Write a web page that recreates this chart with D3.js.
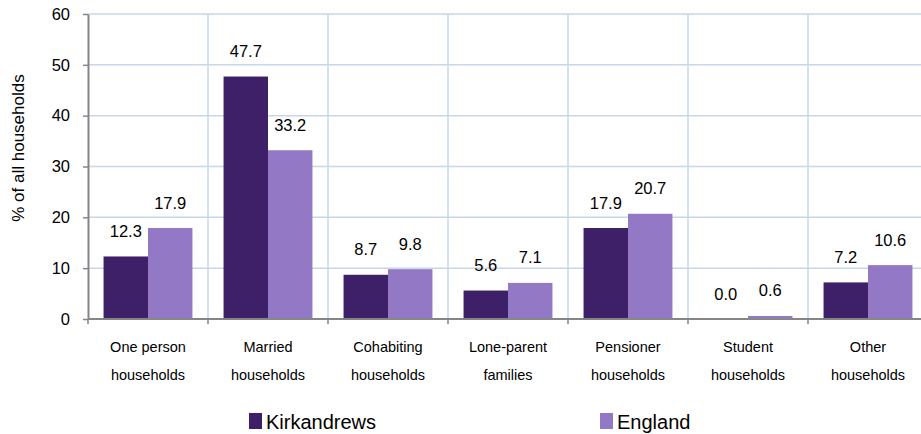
<!DOCTYPE html>
<html>
<head>
<meta charset="utf-8">
<script src="https://cdn.jsdelivr.net/npm/d3@7"></script>
<style>
  body { margin: 0; background: #fff; }
  text { font-family: "Liberation Sans", Arial, sans-serif; fill: #000; }
</style>
</head>
<body>
<script>
// chart data
const categories = [
  ['One person', 'households'],
  ['Married', 'households'],
  ['Cohabiting', 'households'],
  ['Lone-parent', 'families'],
  ['Pensioner', 'households'],
  ['Student', 'households'],
  ['Other', 'households']
];
const seriesNames = ['Kirkandrews', 'England'];
const kirkandrews = [12.3, 47.7, 8.7, 5.6, 17.9, 0.0, 7.2];
const england = [17.9, 33.2, 9.8, 7.1, 20.7, 0.6, 10.6];
const yTicks = [0, 10, 20, 30, 40, 50, 60];
const colors = ['#3d2068', '#9378c5'];

const w = 921, h = 434;
const margin = { left: 88, top: 14, right: -7, bottom: 115 };

const svg = d3.select('body').append('svg')
  .attr('width', w)
  .attr('height', h);

const catKeys = categories.map((c, i) => i);
const x = d3.scaleBand()
  .domain(catKeys)
  .range([margin.left, w - margin.right]);

const xSub = d3.scaleBand()
  .domain(seriesNames)
  .range([0, x.bandwidth()])
  .paddingOuter(0.35);

const y = d3.scaleLinear()
  .domain([0, 60])
  .range([h - margin.bottom, margin.top]);

// gridlines
const grid = svg.append('g').attr('class', 'grid');
grid.selectAll('line.h')
  .data(yTicks.slice(1))
  .enter().append('line')
  .attr('x1', margin.left).attr('x2', w - margin.right)
  .attr('y1', d => y(d)).attr('y2', d => y(d))
  .attr('stroke', '#c6d7ec').attr('stroke-width', 1.5);
grid.selectAll('line.v')
  .data(catKeys.slice(1))
  .enter().append('line')
  .attr('x1', d => x(d)).attr('x2', d => x(d))
  .attr('y1', y(60)).attr('y2', y(0))
  .attr('stroke', '#c6d7ec').attr('stroke-width', 1.5);

// bars
const rows = catKeys.map(i => ({ i, values: [kirkandrews[i], england[i]] }));
const groups = svg.append('g').selectAll('g')
  .data(rows)
  .enter().append('g')
  .attr('transform', d => `translate(${x(d.i)},0)`);

groups.selectAll('rect')
  .data(d => d.values.map((v, k) => ({ name: seriesNames[k], v, k })))
  .enter().append('rect')
  .attr('x', d => xSub(d.name))
  .attr('width', xSub.bandwidth())
  .attr('y', d => y(d.v))
  .attr('height', d => y(0) - y(d.v))
  .attr('fill', d => colors[d.k]);

groups.selectAll('text')
  .data(d => d.values.map((v, k) => ({ name: seriesNames[k], v, k })))
  .enter().append('text')
  .attr('x', d => xSub(d.name) + xSub.bandwidth() / 2)
  .attr('y', d => y(d.v) - 19.5)
  .attr('text-anchor', 'middle')
  .style('font-size', '16.5px')
  .text(d => d.v.toFixed(1));

// y axis
const yAxis = svg.append('g')
  .attr('transform', `translate(${margin.left},0)`)
  .call(d3.axisLeft(y).tickValues(yTicks).tickSize(5).tickSizeOuter(0).tickPadding(13));
yAxis.select('.domain').attr('stroke', '#868686').attr('stroke-width', 2);
yAxis.selectAll('.tick line').attr('stroke', '#868686').attr('stroke-width', 1.5);
yAxis.selectAll('.tick text')
  .style('font-size', '16.5px')
  .style('font-family', '"Liberation Sans", Arial, sans-serif')
  .attr('fill', '#000');

// x axis
const xAxisG = svg.append('g');
xAxisG.append('line')
  .attr('x1', margin.left).attr('x2', w - margin.right)
  .attr('y1', y(0)).attr('y2', y(0))
  .attr('stroke', '#868686').attr('stroke-width', 2);
xAxisG.selectAll('line.t')
  .data(catKeys.concat([catKeys.length]))
  .enter().append('line')
  .attr('x1', d => d < catKeys.length ? x(d) : x.range()[1])
  .attr('x2', d => d < catKeys.length ? x(d) : x.range()[1])
  .attr('y1', y(0)).attr('y2', y(0) + 5)
  .attr('stroke', '#868686').attr('stroke-width', 1.5);

const catLabels = xAxisG.selectAll('text')
  .data(categories.map((c, i) => ({ c, i })))
  .enter().append('text')
  .attr('text-anchor', 'middle')
  .style('font-size', '14.5px');
catLabels.selectAll('tspan')
  .data(d => d.c.map((line, k) => ({ line, k, i: d.i })))
  .enter().append('tspan')
  .attr('x', d => x(d.i) + x.bandwidth() / 2)
  .attr('y', d => 352 + d.k * 28)
  .text(d => d.line);

// y axis title
svg.append('text')
  .attr('transform', 'translate(24,148) rotate(-90)')
  .attr('text-anchor', 'middle')
  .style('font-size', '17px')
  .text('% of all households');

// legend
const legendX = [249, 600];
const legend = svg.append('g').selectAll('g')
  .data(seriesNames)
  .enter().append('g')
  .attr('transform', (d, i) => `translate(${legendX[i]},413)`);
legend.append('rect')
  .attr('width', 13).attr('height', 16)
  .attr('fill', (d, i) => colors[i]);
legend.append('text')
  .attr('x', 17).attr('y', 16)
  .style('font-size', '20px')
  .text(d => d);
</script>
</body>
</html>
